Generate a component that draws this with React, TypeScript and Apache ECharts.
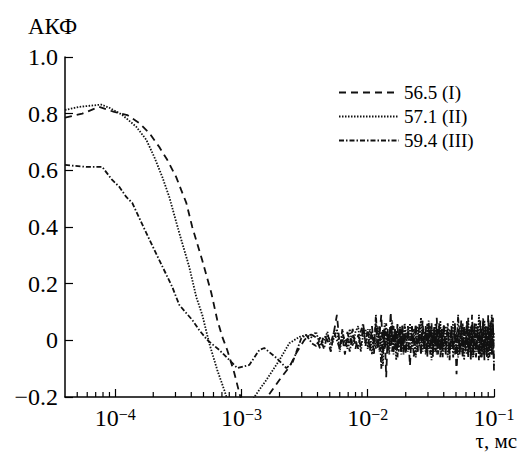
import React, { useEffect, useRef } from "react";
import * as echarts from "echarts";

const FONT = "serif";

const seriesNames = ["56.5 (I)", "57.1 (II)", "59.4 (III)"];

// tau in ms, head parts of the curves
const tauI = [4.0e-5, 5.48e-5, 7.46e-5, 9.82e-5, 1.245e-4, 1.549e-4, 1.858e-4, 2.234e-4, 2.582e-4, 3.041e-4, 3.334e-4, 3.656e-4, 4.074e-4, 4.887e-4, 5.768e-4, 6.427e-4, 7.047e-4, 7.709e-4, 8.77e-4, 9.616e-4, 1.052e-3, 1.262e-3, 1.435e-3, 1.6e-3, 1.995e-3, 2.393e-3, 2.716e-3, 3.148e-3, 3.443e-3];
const valI = [0.786, 0.8, 0.824, 0.806, 0.795, 0.767, 0.732, 0.682, 0.637, 0.576, 0.53, 0.485, 0.4, 0.283, 0.167, 0.072, 0.012, -0.034, -0.115, -0.186, -0.246, -0.28, -0.246, -0.2, -0.14, -0.094, -0.045, 0.001, 0.019];

const tauII = [4.0e-5, 5.19e-5, 7.74e-5, 8.96e-5, 1.135e-4, 1.466e-4, 1.761e-4, 2.038e-4, 2.357e-4, 2.679e-4, 3.215e-4, 3.856e-4, 4.383e-4, 4.89e-4, 5.55e-4, 6.43e-4, 7.31e-4, 8.0e-4, 9.6e-4, 1.153e-3, 1.262e-3, 1.573e-3, 1.995e-3, 2.393e-3, 2.872e-3, 3.26e-3];
const valII = [0.813, 0.824, 0.832, 0.821, 0.796, 0.754, 0.708, 0.647, 0.577, 0.506, 0.379, 0.259, 0.153, 0.09, -0.01, -0.105, -0.176, -0.23, -0.28, -0.246, -0.2, -0.14, -0.07, -0.01, 0.012, 0.019];

const tauIII = [4.0e-5, 5.89e-5, 7.89e-5, 9.46e-5, 1.076e-4, 1.223e-4, 1.364e-4, 1.761e-4, 2.234e-4, 2.831e-4, 3.215e-4, 3.656e-4, 4.074e-4, 4.63e-4, 5.36e-4, 6.67e-4, 8.45e-4, 9.27e-4, 1.153e-3, 1.384e-3, 1.517e-3, 1.888e-3, 2.265e-3, 2.528e-3, 2.98e-3, 3.26e-3];
const valIII = [0.619, 0.612, 0.612, 0.566, 0.542, 0.506, 0.485, 0.379, 0.283, 0.188, 0.125, 0.096, 0.072, 0.036, 0.001, -0.034, -0.08, -0.098, -0.087, -0.034, -0.027, -0.062, -0.098, -0.08, 0.008, 0.019];

// noisy tail, tau in microseconds
const tauTailUs = [
  3.6, 3.9, 4.2, 4.5, 4.8, 5.1, 5.4, 5.7, 6.0, 6.3, 6.6, 6.9, 7.2, 7.6, 8.0, 8.4, 8.8, 9.2, 9.6,
  10, 10.4, 10.8, 11.2, 11.6, 12, 12.4, 12.8, 13.2, 13.6, 14, 14.4, 14.8, 15.2, 15.6, 16, 16.4, 16.8, 17.2, 17.6, 18, 18.4, 18.8, 19.2, 19.6,
  20, 20.8, 21.6, 22.4, 23.2, 24, 24.8, 25.6, 26.4, 27.2, 28, 28.8, 29.6, 30.4, 31.2, 32, 32.8, 33.6, 34.4, 35.2, 36, 36.8, 37.6, 38.4, 39.2,
  40, 41.5, 43, 44.5, 46, 47.5, 49, 50.5, 52, 53.5, 55, 56.5, 58, 59.5, 61, 62.5, 64, 65.5, 67, 68.5,
  70, 72, 74, 76, 78, 80, 82, 84, 86, 88, 90, 92, 94, 96, 98, 100,
];
const tailI = [
  0.02, 0.01, -0.03, 0.02, 0.0, -0.04, 0.03, 0.09, -0.02, 0.01, -0.05, 0.03, -0.01, 0.04, -0.03, 0.02, -0.02, 0.05, -0.01,
  0.03, -0.04, 0.05, -0.02, 0.06, -0.03, 0.02, 0.09, -0.05, 0.04, -0.13, 0.03, -0.02, 0.1, -0.04, 0.05, -0.03, 0.04, -0.06, 0.02, 0.05, -0.03, 0.06, -0.04, 0.03,
  -0.05, 0.04, -0.09, 0.05, -0.02, 0.06, -0.04, 0.03, -0.05, 0.07, -0.03, 0.04, -0.06, 0.05, -0.02, 0.06, -0.05, 0.03, -0.04, 0.08, -0.03, 0.05, -0.06, 0.04, -0.02,
  0.06, -0.05, 0.04, -0.07, 0.05, -0.03, 0.06, -0.12, 0.04, -0.04, 0.07, -0.05, 0.05, -0.03, 0.06, -0.06, 0.04, -0.05, 0.09, -0.04,
  0.05, -0.06, 0.04, -0.05, 0.07, -0.04, 0.06, -0.07, 0.05, -0.04, 0.09, -0.06, 0.05, -0.05, 0.08, -0.11,
];
const tailII = [
  0.01, 0.03, -0.02, 0.0, 0.03, -0.03, 0.01, 0.04, -0.04, 0.02, 0.0, -0.03, 0.04, -0.02, 0.03, 0.05, -0.04, 0.02, 0.04,
  -0.03, 0.04, -0.05, 0.02, -0.03, 0.05, -0.04, 0.03, -0.09, 0.06, -0.02, 0.04, -0.05, 0.03, 0.07, -0.03, 0.04, -0.07, 0.03, -0.02, 0.05, -0.04, 0.03, -0.05, 0.06,
  0.03, -0.04, 0.06, -0.03, 0.04, -0.06, 0.05, -0.02, 0.08, -0.04, 0.03, -0.05, 0.06, -0.03, 0.05, -0.07, 0.04, -0.04, 0.06, -0.05, 0.03, -0.03, 0.07, -0.05, 0.04,
  -0.04, 0.05, -0.06, 0.04, -0.03, 0.07, -0.05, 0.03, -0.06, 0.05, -0.04, 0.06, -0.07, 0.04, -0.05, 0.08, -0.04, 0.05, -0.06, 0.04,
  -0.05, 0.06, -0.04, 0.09, -0.06, 0.04, -0.05, 0.07, -0.04, 0.05, -0.07, 0.06, -0.05, 0.09, -0.04, 0.03,
];
const tailIII = [
  -0.01, -0.02, 0.01, -0.03, 0.02, -0.01, 0.03, 0.0, -0.03, 0.04, -0.02, 0.01, -0.04, 0.02, 0.0, -0.03, 0.03, 0.06, -0.02,
  0.04, -0.02, 0.03, -0.05, 0.09, -0.03, 0.05, -0.1, 0.04, -0.03, 0.06, -0.04, 0.03, -0.02, 0.05, -0.05, 0.04, -0.03, 0.06, -0.04, 0.02, -0.05, 0.04, -0.03, 0.05,
  -0.04, 0.05, -0.03, 0.04, -0.06, 0.03, -0.04, 0.06, -0.05, 0.04, -0.03, 0.05, -0.04, 0.07, -0.05, 0.03, -0.06, 0.05, -0.03, 0.04, -0.05, 0.06, -0.04, 0.03, -0.06,
  0.05, -0.04, 0.06, -0.05, 0.04, -0.06, 0.05, -0.03, 0.09, -0.05, 0.04, -0.06, 0.05, -0.04, 0.07, -0.05, 0.04, -0.07, 0.05, -0.06,
  0.06, -0.04, 0.05, -0.07, 0.04, -0.06, 0.08, -0.05, 0.04, -0.06, 0.05, -0.04, 0.07, -0.05, 0.06, -0.09,
];

const X_MIN = 4e-5;
const X_MAX = 0.1;
const Y_MIN = -0.2;
const Y_MAX = 1.0;

function zip(t: number[], v: number[]): number[][] {
  const n = Math.min(t.length, v.length);
  const out: number[][] = [];
  for (let i = 0; i < n; i++) out.push([t[i], v[i]]);
  return out;
}

function buildSeriesData(tau: number[], val: number[], tail: number[]) {
  const tailTau = tauTailUs.map((u) => u / 1000);
  return zip(tau, val).concat(zip(tailTau, tail));
}

// minor tick positions of the log axis (2..9 x 10^k)
const minorTicks: number[] = [];
for (let e = -5; e <= -2; e++) {
  for (let m = 2; m <= 9; m++) {
    const v = m * Math.pow(10, e);
    if (v > X_MIN && v < X_MAX) minorTicks.push(v);
  }
}

export default function App() {
  const ref = useRef<HTMLDivElement>(null);
  useEffect(() => {
    if (!ref.current) return;
    const chart = echarts.init(ref.current, undefined, { renderer: "svg" });
    const lineCommon = {
      type: "line",
      showSymbol: false,
      symbol: "none",
      clip: true,
      silent: true,
      color: "#111",
    };
    const option: any = {
      animation: false,
      grid: { left: 65, right: 26, top: 57, bottom: 55 },
      legend: {
        data: seriesNames,
        orient: "vertical",
        left: 333,
        top: 78,
        itemWidth: 60,
        itemHeight: 14,
        itemGap: 5,
        selectedMode: false,
        itemStyle: { opacity: 0 },
        textStyle: { fontFamily: FONT, fontSize: 19, color: "#000" },
      },
      xAxis: {
        type: "log",
        logBase: 10,
        min: X_MIN,
        max: X_MAX,
        axisLine: { onZero: false, lineStyle: { color: "#000", width: 1.5 } },
        axisTick: { inside: true, length: 8, lineStyle: { color: "#000", width: 1.2 } },
        splitLine: { show: false },
        axisLabel: {
          showMinLabel: false,
          margin: 9,
          fontFamily: FONT,
          fontSize: 24,
          color: "#000",
          formatter: (v: number) => {
            const e = Math.round(Math.log10(v));
            return `{b|10}{s|\u2212${Math.abs(e)}}`;
          },
          rich: {
            b: { fontFamily: FONT, fontSize: 24, color: "#000", lineHeight: 24, verticalAlign: "bottom" },
            s: { fontFamily: FONT, fontSize: 16, color: "#000", lineHeight: 16, verticalAlign: "top" },
          },
        },
      },
      yAxis: {
        type: "value",
        min: Y_MIN,
        max: Y_MAX,
        interval: 0.2,
        axisLine: { show: true, onZero: false, lineStyle: { color: "#000", width: 1.5 } },
        axisTick: { show: true, inside: true, length: 8, lineStyle: { color: "#000", width: 1.2 } },
        splitLine: { show: false },
        axisLabel: {
          margin: 7,
          fontFamily: FONT,
          fontSize: 24,
          color: "#000",
          formatter: (v: number) => {
            const r = Math.round(v * 10) / 10;
            let s = r.toFixed(1);
            if (r === 0) s = "0";
            else if (r < 0) s = "\u2212" + Math.abs(r).toFixed(1);
            return `{v|${s}}`;
          },
          rich: {
            v: { fontFamily: FONT, fontSize: 24, color: "#000" },
          },
        },
      },
      graphic: [
        {
          type: "text",
          left: 28,
          top: 15,
          style: { text: "АКФ", font: "23px serif", fill: "#000" },
        },
        {
          type: "text",
          right: 3,
          top: 430,
          style: { text: "τ, мс", font: "21px serif", fill: "#000" },
        },
      ],
      series: [
        {
          ...lineCommon,
          name: seriesNames[0],
          data: buildSeriesData(tauI, valI, tailI),
          lineStyle: { color: "#111", width: 1.8, type: [7, 5] },
        },
        {
          ...lineCommon,
          name: seriesNames[1],
          data: buildSeriesData(tauII, valII, tailII),
          lineStyle: { color: "#111", width: 1.8, type: [1.5, 1.5] },
        },
        {
          ...lineCommon,
          name: seriesNames[2],
          data: buildSeriesData(tauIII, valIII, tailIII),
          lineStyle: { color: "#111", width: 1.8, type: [5, 2, 1.5, 2] },
        },
        {
          type: "custom",
          name: "minorTicks",
          silent: true,
          clip: false,
          z: 5,
          data: minorTicks.map((v) => [v, Y_MIN]),
          encode: { x: 0, y: 1 },
          renderItem: (params: any, api: any) => {
            const p = api.coord([api.value(0), Y_MIN]);
            return {
              type: "line",
              shape: { x1: p[0], y1: p[1], x2: p[0], y2: p[1] - 5 },
              style: { stroke: "#000", lineWidth: 1.2 },
            };
          },
        },
      ],
    };
    chart.setOption(option);
    return () => chart.dispose();
  }, []);
  return (
    <div
      ref={ref}
      style={{ position: "fixed", left: 0, top: 0, width: 520, height: 452, background: "#fff" }}
    />
  );
}
